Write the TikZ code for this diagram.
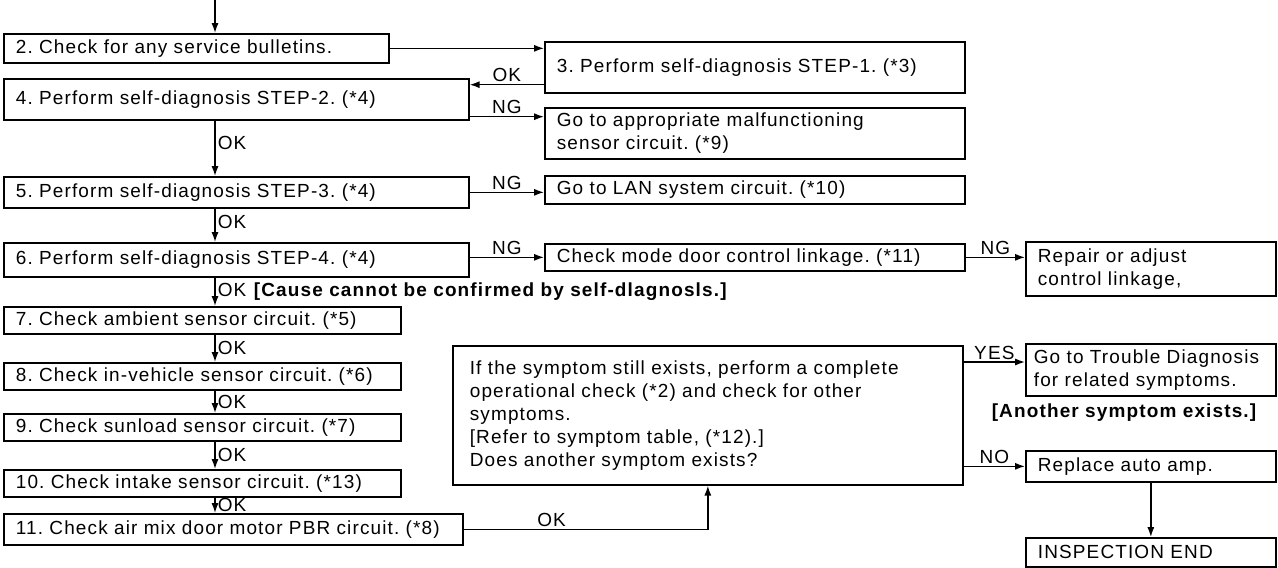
\documentclass[tikz,border=0pt]{standalone}
\usepackage{fontspec}
\setmainfont{Liberation Sans}[LetterSpace=6]
\usetikzlibrary{arrows.meta, positioning}
\frenchspacing

\begin{document}
\begin{tikzpicture}[
    box/.style={rectangle, draw=black, line width=1.2pt, anchor=north west, inner xsep=0.3cm, inner ysep=0pt, align=left, font=\fontsize{13.5}{16.3}\selectfont},
    flow/.style={-{Latex[length=7pt, width=5pt]}, line width=1pt},
    tag/.style={font=\fontsize{13.5}{15}\selectfont, inner sep=1.5pt}
]
    \useasboundingbox (0,0) rectangle (31.95,-14.2);

    % Left column
    \coordinate (start) at (5.375, 0);
    \node[box, text width=9.025cm, minimum height=0.725cm] (check2) at (0.075, -0.825) {2. Check for any service bulletins.};
    \node[box, text width=11.025cm, minimum height=1.025cm] (step2) at (0.075, -1.95) {4. Perform self-diagnosis STEP-2. (*4)};
    \node[box, text width=11.025cm, minimum height=0.775cm] (step3) at (0.075, -4.4) {5. Perform self-diagnosis STEP-3. (*4)};
    \node[box, text width=11.025cm, minimum height=0.85cm] (step4) at (0.075, -6.05) {6. Perform self-diagnosis STEP-4. (*4)};
    \node[box, text width=9.325cm, minimum height=0.675cm] (ambient) at (0.075, -7.65) {7. Check ambient sensor circuit. (*5)};
    \node[box, text width=9.325cm, minimum height=0.675cm] (invehicle) at (0.075, -9.05) {8. Check in-vehicle sensor circuit. (*6)};
    \node[box, text width=9.325cm, minimum height=0.675cm] (sunload) at (0.075, -10.325) {9. Check sunload sensor circuit. (*7)};
    \node[box, text width=9.325cm, minimum height=0.675cm] (intake) at (0.075, -11.725) {10. Check intake sensor circuit. (*13)};
    \node[box, text width=10.875cm, minimum height=0.775cm] (airmix) at (0.075, -12.825) {11. Check air mix door motor PBR circuit. (*8)};

    % Middle column
    \node[box, text width=9.9cm, minimum height=1.275cm] (step1) at (13.6, -1.025) {3. Perform self-diagnosis STEP-1. (*3)};
    \node[box, text width=9.9cm, minimum height=1.275cm] (sensor) at (13.6, -2.675) {Go to appropriate malfunctioning\\sensor circuit. (*9)};
    \node[box, text width=9.9cm, minimum height=0.7cm] (lan) at (13.6, -4.375) {Go to LAN system circuit. (*10)};
    \node[box, text width=9.9cm, minimum height=0.675cm] (mode) at (13.6, -6.075) {Check mode door control linkage. (*11)};
    \node[box, inner xsep=0.425cm, text width=11.9cm, minimum height=3.475cm] (question) at (11.3, -8.625) {If the symptom still exists, perform a complete\\operational check (*2) and check for other\\symptoms.\\{[}Refer to symptom table, (*12).{]}\\Does another symptom exists?};

    % Right column
    \node[box, text width=5.65cm, minimum height=1.35cm] (repair) at (25.625, -6.025) {Repair or adjust\\control linkage,};
    \node[box, inner xsep=0.2cm, text width=5.85cm, minimum height=1.3cm] (trouble) at (25.625, -8.575) {Go to Trouble Diagnosis\\for related symptoms.};
    \node[tag, font=\fontsize{13.5}{15}\selectfont\bfseries] (another) at (28.1, -10.325) {[Another symptom exists.]};
    \node[box, text width=5.65cm, minimum height=0.775cm] (replace) at (25.625, -11.25) {Replace auto amp.};
    \node[box, text width=5.65cm, minimum height=0.725cm] (finish) at (25.625, -13.425) {INSPECTION END};

    % Connectors
    \coordinate (okback) at ([yshift=0.225cm]step1.south west);
    \coordinate (ngsensor) at ([yshift=0.1cm]step2.south east);
    \coordinate (yes) at ([yshift=-0.425cm]question.north east);
    \draw[flow] (start) -- (check2.north -| start);
    \draw[flow] (check2.east) -- (check2.east -| step1.west);
    \draw[flow] (okback) -- (okback -| step2.east) node[tag, midway, above] {OK};
    \draw[flow] (ngsensor) -- (ngsensor -| sensor.west) node[tag, midway, above] {NG};
    \draw[flow] (step2.south -| start) -- (step3.north -| start) node[tag, pos=0.4, right] {OK};
    \draw[flow] (step3.east) -- (step3.east -| lan.west) node[tag, midway, above] {NG};
    \draw[flow] (step3.south -| start) -- (step4.north -| start) node[tag, pos=0.4, right] {OK};
    \draw[flow] (step4.east |- mode.west) -- (mode.west) node[tag, midway, above] {NG};
    \draw[flow] (mode.east) -- (mode.east -| repair.west) node[tag, midway, above] {NG};
    \draw[flow] (step4.south -| start) -- (ambient.north -| start) node[tag, midway, right] {OK \textbf{[Cause cannot be confirmed by self-dlagnosls.]}};
    \draw[flow] (ambient.south -| start) -- (invehicle.north -| start) node[tag, midway, right] {OK};
    \draw[flow] (invehicle.south -| start) -- (sunload.north -| start) node[tag, midway, right] {OK};
    \draw[flow] (sunload.south -| start) -- (intake.north -| start) node[tag, midway, right] {OK};
    \draw[flow] (intake.south -| start) -- (airmix.north -| start) node[tag, midway, right] {OK};
    \draw[flow] (airmix.east) -| (question.south) node[tag, pos=0.18, above] {OK};
    \draw[flow] (yes) -- (yes -| trouble.west) node[tag, midway, above] {YES};
    \draw[flow] (replace.west -| question.east) -- (replace.west) node[tag, midway, above] {NO};
    \draw[flow] (replace.south) -- (finish.north);

\end{tikzpicture}
\end{document}
